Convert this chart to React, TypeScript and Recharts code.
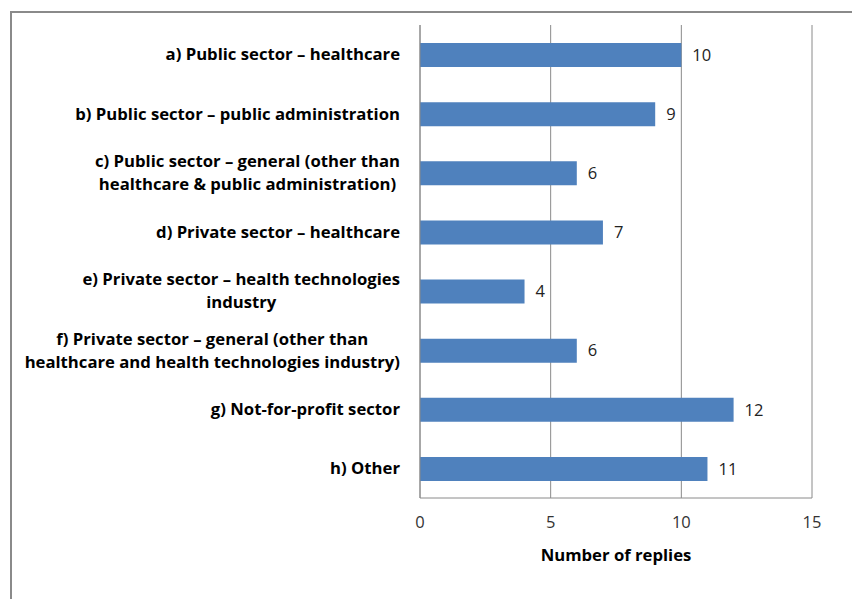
import { Bar, BarChart, CartesianGrid, LabelList, XAxis, YAxis } from "recharts"

const categories = [
  "a) Public sector – healthcare",
  "b) Public sector – public administration",
  "c) Public sector – general (other than\nhealthcare & public administration)",
  "d) Private sector – healthcare",
  "e) Private sector – health technologies\nindustry",
  "f) Private sector – general (other than\nhealthcare and health technologies industry)",
  "g) Not-for-profit sector",
  "h) Other",
]
const replies = [10, 9, 6, 7, 4, 6, 12, 11]
const xTicks = [0, 5, 10, 15]

const data = categories.map((name, i) => ({ name, replies: replies[i] }))

const FONT = "'Open Sans', sans-serif"
const LABEL_SIZE = 16.7

let ctx: CanvasRenderingContext2D | null = null
function measure(text: string) {
  if (!ctx) ctx = document.createElement("canvas").getContext("2d")
  if (!ctx) return text.length * 8
  ctx.font = `bold ${LABEL_SIZE}px 'Open Sans'`
  return ctx.measureText(text).width
}

function CategoryTick({ x, y, payload }: any) {
  const lines: string[] = String(payload.value).split("\n")
  const maxW = Math.max(...lines.map(measure))
  const cx = x - maxW / 2
  const lh = 23
  const y0 = y - ((lines.length - 1) * lh) / 2
  return (
    <text textAnchor="middle" fontFamily={FONT} fontSize={LABEL_SIZE} fontWeight="bold" fill="#000">
      {lines.map((l, i) => (
        <tspan key={i} x={cx} y={y0 + i * lh} dy="0.35em">
          {l}
        </tspan>
      ))}
    </text>
  )
}

export default function App() {
  return (
    <div style={{ position: "relative", width: 852, height: 591, overflow: "hidden", background: "#fff" }}>
      <div
        style={{
          position: "absolute",
          left: 2,
          top: 3,
          width: 900,
          height: 700,
          borderLeft: "2px solid #8a8a8a",
          borderTop: "2px solid #8a8a8a",
        }}
      />
      <div style={{ position: "absolute", left: 0, top: 0 }}>
        <BarChart
          width={852}
          height={591}
          data={data}
          layout="vertical"
          margin={{ top: 17, right: 48, bottom: 0, left: 0 }}
        >
          <CartesianGrid horizontal={false} vertical stroke="#8a8a8a" />
          <XAxis
            type="number"
            domain={[0, 15]}
            ticks={xTicks}
            interval={0}
            tickLine={false}
            axisLine={{ stroke: "#8a8a8a" }}
            tick={{ fill: "#333", fontSize: 16.5, fontFamily: FONT }}
            tickMargin={12}
            height={101}
            label={{
              value: "Number of replies",
              position: "insideBottom",
              offset: 38,
              fill: "#000",
              fontSize: LABEL_SIZE,
              fontWeight: "bold",
              fontFamily: FONT,
            }}
          />
          <YAxis
            type="category"
            dataKey="name"
            width={412}
            tickLine={false}
            axisLine={{ stroke: "#8a8a8a" }}
            tickMargin={14}
            interval={0}
            tick={<CategoryTick />}
          />
          <Bar dataKey="replies" fill="#4F81BD" barSize={24} isAnimationActive={false}>
            <LabelList dataKey="replies" position="right" offset={11} fill="#222" fontSize={16.5} fontFamily={FONT} />
          </Bar>
        </BarChart>
      </div>
    </div>
  )
}
